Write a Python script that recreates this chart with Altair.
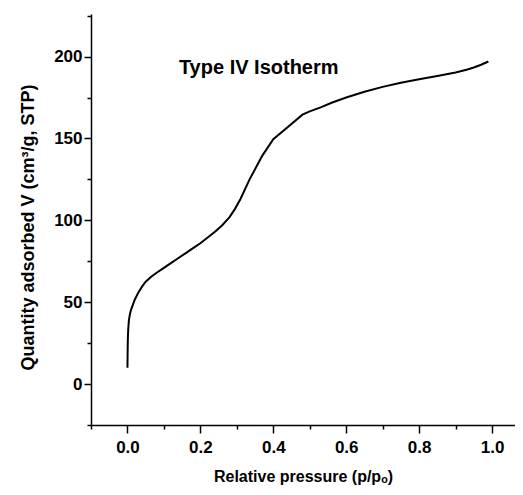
import altair as alt
import pandas as pd

# Relative pressure (p/p0) and quantity adsorbed V (cm3/g STP)
pressure = [0.0, 0.0005, 0.001, 0.002, 0.004, 0.007, 0.01, 0.015, 0.02, 0.03, 0.04,
            0.05, 0.065, 0.08, 0.10, 0.12, 0.14, 0.16, 0.18, 0.20, 0.22, 0.24,
            0.26, 0.28, 0.295, 0.31, 0.335, 0.37, 0.40, 0.44, 0.48, 0.50, 0.53,
            0.56, 0.60, 0.65, 0.70, 0.75, 0.80, 0.85, 0.90, 0.93, 0.95, 0.97, 0.99]
volume = [10, 20, 27, 33, 39, 43, 45.5, 48.5, 51.5, 56, 59.5,
          62.5, 65.5, 68, 71, 74, 77, 80, 83, 86, 89.5, 93,
          97, 102, 107, 113, 125, 139.5, 149.5, 157, 164.5, 166.5, 169,
          171.8, 175, 178.5, 181.5, 184, 186.2, 188.2, 190.3, 192, 193.3, 195, 197]

x_major = [0.0, 0.2, 0.4, 0.6, 0.8, 1.0]
x_minor = [-0.1, 0.1, 0.3, 0.5, 0.7, 0.9]
y_major = [0, 50, 100, 150, 200]
y_minor = [-25, 25, 75, 125, 175, 225]

label_text = ["Type IV Isotherm"]
label_x = [0.36]
label_y = [193]

df = pd.DataFrame({"p": pressure, "v": volume})
lab = pd.DataFrame({"t": label_text, "p": label_x, "v": label_y})

x_dom = [-0.1, 1.063]
y_dom = [-25, 226]
FONT = "Liberation Sans"

xs = alt.Scale(domain=x_dom, nice=False, zero=False)
ys = alt.Scale(domain=y_dom, nice=False, zero=False)

line = alt.Chart(df).mark_line(color="black", strokeWidth=2, interpolate="linear").encode(
    x=alt.X("p:Q", scale=xs, axis=alt.Axis(
        values=x_major, format=".1f", orient="bottom", title="Relative pressure (p/pₒ)",
        tickSize=8, tickWidth=1.5, domainWidth=1.5, domainColor="black", tickColor="black",
        labelFont=FONT, labelFontSize=17, labelFontWeight="bold", labelColor="black",
        labelPadding=6, titleFont=FONT, titleFontSize=16, titleFontWeight="bold",
        titleColor="black", titlePadding=13, grid=False)),
    y=alt.Y("v:Q", scale=ys, axis=alt.Axis(
        values=y_major, orient="left", title="Quantity adsorbed V (cm³/g, STP)",
        tickSize=7, tickWidth=1.5, domainWidth=1.5, domainColor="black", tickColor="black",
        labelFont=FONT, labelFontSize=17, labelFontWeight="bold", labelColor="black",
        labelPadding=2, titleFont=FONT, titleFontSize=18, titleFontWeight="bold",
        titleColor="black", titleAngle=270, titleAlign="center", titleBaseline="middle",
        titleX=-63, titleY=213, grid=False)),
)

minor = alt.Chart(df).mark_line(opacity=0).encode(
    x=alt.X("p:Q", scale=xs, axis=alt.Axis(
        values=x_minor, orient="bottom", labels=False, domain=False, title=None,
        tickSize=4, tickWidth=1.5, tickColor="black", grid=False)),
    y=alt.Y("v:Q", scale=ys, axis=alt.Axis(
        values=y_minor, orient="left", labels=False, domain=False, title=None,
        tickSize=4, tickWidth=1.5, tickColor="black", grid=False)),
)

text = alt.Chart(lab).mark_text(font=FONT, fontSize=20, fontWeight="bold", color="black",
                                align="center", baseline="middle").encode(
    x=alt.X("p:Q", scale=xs, axis=None),
    y=alt.Y("v:Q", scale=ys, axis=None),
    text="t:N",
)

chart = alt.layer(line, minor, text).resolve_axis(x="independent", y="independent").properties(
    width=424, height=411,
    autosize=alt.AutoSizeParams(type="none"),
    padding={"left": 83, "top": 6, "right": 0, "bottom": 62},
).configure_view(stroke=None)

chart.save("out.html", embed_options={"renderer": "svg", "actions": False})
